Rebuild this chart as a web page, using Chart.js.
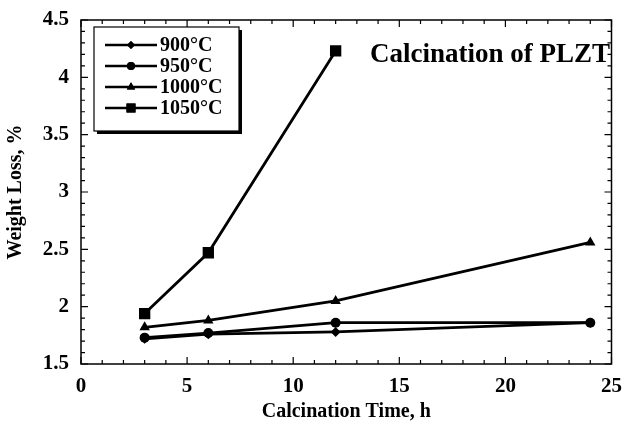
<!DOCTYPE html>
<html lang="en">
<head>
<meta charset="UTF-8">
<title>Calcination of PLZT</title>
<script src="https://cdn.jsdelivr.net/npm/chart.js"></script>
<style>
  body { margin: 0; background: #fff; }
  #wrap { width: 632px; height: 426px; }
</style>
</head>
<body>
<div id="wrap"><canvas id="myChart"></canvas></div>
<script>
// data
var time900 = [3, 6, 12, 24];
var loss900 = [1.72, 1.76, 1.78, 1.86];
var time950 = [3, 6, 12, 24];
var loss950 = [1.73, 1.77, 1.86, 1.86];
var time1000 = [3, 6, 12, 24];
var loss1000 = [1.82, 1.88, 2.05, 2.56];
var time1050 = [3, 6, 12];
var loss1050 = [1.94, 2.47, 4.23];
var seriesNames = ['900°C', '950°C', '1000°C', '1050°C'];
var seriesMarks = ['rectRot', 'circle', 'triangle', 'rect'];
var markSize = [5, 5, 6, 8];

var serif = "'Liberation Serif', 'Times New Roman', serif";

function pts(xs, ys) {
  return xs.map(function (x, i) { return { x: x, y: ys[i] }; });
}

function makeSet(i, xs, ys) {
  return {
    label: seriesNames[i],
    data: pts(xs, ys),
    borderColor: '#000',
    backgroundColor: '#000',
    borderWidth: 2.8,
    pointStyle: seriesMarks[i],
    pointRadius: markSize[i],
    pointBorderWidth: 0,
    tension: 0
  };
}

// box + inward ticks on all four sides, title and legend
var frame = {
  id: 'frame',
  afterDraw: function (chart) {
    var c = chart.ctx, a = chart.chartArea;
    var xs = chart.scales.x, ys = chart.scales.y;
    c.save();
    c.strokeStyle = '#000';
    c.lineWidth = 1.5;
    c.strokeRect(a.left, a.top, a.right - a.left, a.bottom - a.top);
    c.lineWidth = 1.2;
    c.beginPath();
    for (var t = 0; t <= 25; t++) {
      var px = xs.getPixelForValue(t);
      var len = (t % 5 == 0) ? 7 : 4;
      c.moveTo(px, a.bottom); c.lineTo(px, a.bottom - len);
      c.moveTo(px, a.top); c.lineTo(px, a.top + len);
    }
    for (var k = 15; k <= 45; k++) {
      var py = ys.getPixelForValue(k / 10);
      var len2 = (k % 5 == 0) ? 7 : 4;
      c.moveTo(a.left, py); c.lineTo(a.left + len2, py);
      c.moveTo(a.right, py); c.lineTo(a.right - len2, py);
    }
    c.stroke();

    // title inside the plot
    c.fillStyle = '#000';
    c.font = 'bold 27px ' + serif;
    c.textAlign = 'left';
    c.textBaseline = 'middle';
    c.fillText('Calcination of PLZT', 370, 55);

    // legend box with shadow
    var bx = 94, by = 27, bw = 145, bh = 104;
    c.fillRect(bx + 3, by + 3, bw, bh);
    c.fillStyle = '#fff';
    c.fillRect(bx, by, bw, bh);
    c.lineWidth = 1.2;
    c.strokeRect(bx, by, bw, bh);
    c.font = 'bold 20px ' + serif;
    for (var i = 0; i < 4; i++) {
      var ry = 45 + i * 21;
      c.strokeStyle = '#000';
      c.lineWidth = 2.5;
      c.beginPath();
      c.moveTo(105, ry); c.lineTo(157, ry);
      c.stroke();
      c.fillStyle = '#000';
      Chart.helpers.drawPoint(c, { pointStyle: seriesMarks[i], radius: markSize[i] * 0.8, borderWidth: 0 }, 131, ry);
      c.fill();
      c.fillText(seriesNames[i], 160, ry + 1);
    }
    c.restore();
  }
};

new Chart(document.getElementById('myChart'), {
  type: 'line',
  data: {
    datasets: [
      makeSet(0, time900, loss900),
      makeSet(1, time950, loss950),
      makeSet(2, time1000, loss1000),
      makeSet(3, time1050, loss1050)
    ]
  },
  options: {
    responsive: true,
    maintainAspectRatio: false,
    animation: false,
    layout: { padding: { left: 0, right: 0, top: 20, bottom: 0 } },
    plugins: { legend: { display: false }, tooltip: { enabled: false } },
    scales: {
      x: {
        type: 'linear',
        min: 0, max: 25,
        grid: { display: false, drawTicks: false },
        border: { display: false },
        ticks: { stepSize: 5, color: '#000', padding: 10, font: { family: serif, size: 21, weight: 'bold' } },
        title: { display: true, text: 'Calcination Time, h', color: '#000', font: { family: serif, size: 20, weight: 'bold' }, padding: { top: 0, bottom: 2 } },
        afterFit: function (s) { s.height = 62; }
      },
      y: {
        type: 'linear',
        min: 1.5, max: 4.5,
        grid: { display: false, drawTicks: false },
        border: { display: false },
        ticks: {
          stepSize: 0.5, color: '#000', padding: 12,
          font: { family: serif, size: 21, weight: 'bold' },
          callback: function (v) { return String(v); }
        },
        title: { display: true, text: 'Weight Loss, %', color: '#000', font: { family: serif, size: 20, weight: 'bold' }, padding: { top: 4, bottom: 0 } },
        afterFit: function (s) { s.width = 81; s.paddingTop = 0; s.paddingBottom = 0; }
      }
    }
  },
  plugins: [frame]
});
</script>
</body>
</html>
